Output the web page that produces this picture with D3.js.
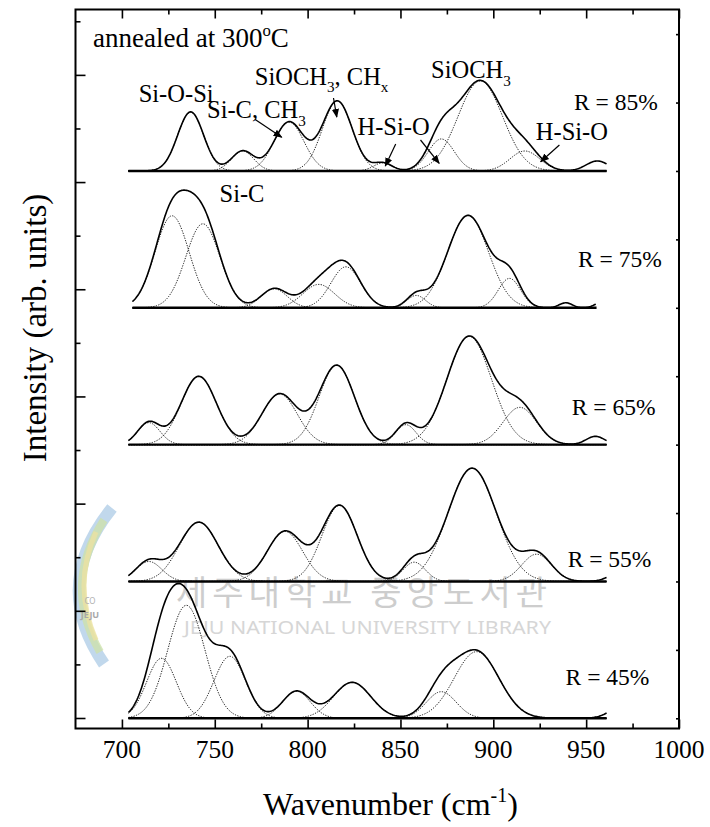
<!DOCTYPE html>
<html><head><meta charset="utf-8">
<script src="https://cdn.jsdelivr.net/npm/d3@7"></script>
<style>body{margin:0;background:#fff}</style></head>
<body>
<svg id="c" width="710" height="827"></svg>
<script>
// ---------- data ----------
const sampleLabels = ["R = 85%", "R = 75%", "R = 65%", "R = 55%", "R = 45%"];
const offsets = [8, 6, 4, 2, 0];                 // baseline of each stacked spectrum (right-axis units)
const startWn = [703.5, 705.7, 703.5, 703.5, 703.5];
const endWn   = [961, 955.6, 961, 961, 961];
// fitted components: [centre (cm-1), height, width sigma (cm-1)]
const peaks85 = [[737,0.863,7],[765,0.292,6],[790,0.716,8],[816,1.023,8],[840.5,0.117,5],[872,0.468,7],[893,1.316,12],[917,0.292,8]];
const peaks75 = [[727,1.345,9.2],[743.6,1.228,9.2],[782,0.278,7],[806,0.342,8.5],[820.6,0.599,8],[858.5,0.181,5],[886.4,1.351,11],[908.7,0.430,6]];
const peaks65 = [[714.5,0.322,6],[741.4,0.999,9.5],[784.9,0.741,9.5],[815.7,1.159,9.5],[852.9,0.292,5.5],[887,1.583,12],[914.3,0.545,9]];
const peaks55 = [[714.5,0.292,7],[741.4,0.867,10.5],[787.8,0.731,9.5],[817.2,1.111,9.5],[857.4,0.282,6],[888.6,1.656,13],[923.3,0.399,8]];
const peaks45 = [[721.3,0.877,8],[734.7,1.652,10],[758.1,0.906,8.5],[794,0.395,7.5],[824,0.526,10],[872,0.389,8],[891,0.974,12]];
// measured-spectrum features outside the fitted components (solid line only)
const tails85 = [[956,0.146,6]];
const tails75 = [[939,0.073,3.5],[958,0.073,3.5]];
const tails65 = [[955,0.121,5]];
const tails55 = [[968,0.117,6]];
const tails45 = [[970,0.175,7]];
const xMajorTicks = [700, 750, 800, 850, 900, 950, 1000];
const xMinorTicks = [725, 775, 825, 875, 925, 975];

const peakSets = [peaks85, peaks75, peaks65, peaks55, peaks45];
const tailSets = [tails85, tails75, tails65, tails55, tails45];

// ---------- layout ----------
const svg = d3.select("#c");
const L = 75.5, R = 679, T = 9.5, B = 728.5;
const x = d3.scaleLinear().domain([675, 1000]).range([L, R]);
const yR = d3.scaleLinear().domain([-0.149, 10.36]).range([B, T]);   // right axis / data
const yL = d3.scaleLinear().domain([-0.196, 13.22]).range([B, T]);   // left axis ticks
const serif = "Liberation Serif";

// ---------- watermark ----------
const wm = svg.append("g").attr("class", "watermark");
wm.append("path").attr("d", "M112,508 Q50,585 104,664").attr("fill", "none")
  .attr("stroke", "#a7c7e4").attr("stroke-width", 12).attr("opacity", 0.7);
wm.append("path").attr("d", "M104,520 Q62,585 100,652").attr("fill", "none")
  .attr("stroke", "#cde2a8").attr("stroke-width", 8).attr("opacity", 0.75);
wm.append("path").attr("d", "M96,532 Q72,585 96,640").attr("fill", "none")
  .attr("stroke", "#eee2a0").attr("stroke-width", 5).attr("opacity", 0.75);
wm.append("text").attr("x", 90).attr("y", 604).attr("text-anchor", "middle")
  .attr("font-family", "Noto Sans").attr("font-size", 8).attr("fill", "#b0b0b0").text("CO");
wm.append("text").attr("x", 90).attr("y", 618).attr("text-anchor", "middle")
  .attr("font-family", "Noto Sans").attr("font-weight", "bold").attr("font-size", 9).attr("fill", "#a8a8a8").text("JEJU");
wm.append("text").attr("x", 176).attr("y", 605)
  .attr("font-family", "Noto Sans CJK KR").attr("font-size", 34).attr("fill", "#cdcdcd")
  .attr("textLength", 371).text("제주대학교 중앙도서관");
wm.append("text").attr("x", 184).attr("y", 634)
  .attr("font-family", "Noto Sans").attr("font-size", 18).attr("fill", "#d6d6d6")
  .attr("textLength", 367).attr("lengthAdjust", "spacingAndGlyphs").text("JEJU NATIONAL UNIVERSITY LIBRARY");

// ---------- spectra ----------
const gauss = (w, p) => p[1] * Math.exp(-((w - p[0]) ** 2) / (2 * p[2] * p[2]));
const line = d3.line().x(d => x(d[0])).y(d => yR(d[1])).curve(d3.curveLinear);

peakSets.forEach((peaks, i) => {
  const wns = d3.range(startWn[i], endWn[i] + 0.001, 0.5);
  const g = svg.append("g");
  peaks.forEach(p => {
    g.append("path").datum(wns.map(w => [w, offsets[i] + gauss(w, p)]))
      .attr("d", line).attr("fill", "none").attr("stroke", "#222")
      .attr("stroke-width", 1).attr("stroke-dasharray", "1.3,1.3");
  });
  g.append("path").datum([[startWn[i], offsets[i]], [endWn[i], offsets[i]]])
    .attr("d", line).attr("stroke", "#000").attr("stroke-width", 2.4);
  const all = peaks.concat(tailSets[i]);
  g.append("path").datum(wns.map(w => [w, offsets[i] + d3.sum(all, p => gauss(w, p))]))
    .attr("d", line).attr("fill", "none").attr("stroke", "#000").attr("stroke-width", 1.6);
});

// ---------- frame & axes ----------
svg.append("rect").attr("x", L).attr("y", T).attr("width", R - L).attr("height", B - T)
  .attr("fill", "none").attr("stroke", "#000").attr("stroke-width", 2);

function ticks(axisFn, scale, vals, size, tr) {
  const a = svg.append("g").attr("transform", tr)
    .call(axisFn(scale).tickValues(vals).tickSize(size).tickFormat(""));
  a.select(".domain").remove();
  a.selectAll("text").remove();
  a.selectAll("line").attr("stroke", "#000").attr("stroke-width", 1.6);
  return a;
}
ticks(d3.axisBottom, x, xMajorTicks, -9, `translate(0,${B})`);
ticks(d3.axisBottom, x, xMinorTicks, -5, `translate(0,${B})`);
ticks(d3.axisTop, x, xMajorTicks, -9, `translate(0,${T})`);
ticks(d3.axisTop, x, xMinorTicks, -5, `translate(0,${T})`);
ticks(d3.axisLeft, yL, [0, 2, 4, 6, 8, 10, 12], -10, `translate(${L},0)`);
ticks(d3.axisLeft, yL, [1, 3, 5, 7, 9, 11, 13], -5, `translate(${L},0)`);
ticks(d3.axisRight, yR, [0,1,2,3,4,5,6,7,8,9,10], -3, `translate(${R},0)`);

svg.append("g").selectAll("text").data(xMajorTicks).join("text")
  .attr("x", d => x(d)).attr("y", 758).attr("text-anchor", "middle")
  .attr("font-family", serif).attr("font-size", 25.5).attr("fill", "#000").text(d => d);

// axis titles
const xt = svg.append("text").attr("x", 263).attr("y", 815)
  .attr("font-family", serif).attr("font-size", 32).attr("fill", "#000");
xt.append("tspan").text("Wavenumber (cm");
xt.append("tspan").attr("font-size", 20).attr("dy", -13).text("-1");
xt.append("tspan").attr("dy", 13).text(")");

svg.append("text").attr("transform", "translate(46,328) rotate(-90)")
  .attr("text-anchor", "middle").attr("font-family", serif).attr("font-size", 33)
  .attr("fill", "#000").text("Intensity (arb. units)");

// ---------- annotations ----------
function label(xp, yp, parts, size) {
  const t = svg.append("text").attr("x", xp).attr("y", yp)
    .attr("font-family", serif).attr("font-size", size).attr("fill", "#000");
  let pending = 0;
  parts.forEach(p => {
    if (typeof p === "string") {
      t.append("tspan").attr("dy", pending).text(p);
      pending = 0;
    } else {
      const dy = p.sub ? 0.3 * size : -0.4 * size;
      t.append("tspan").attr("font-size", size * 0.62).attr("dy", dy + pending).text(p.t);
      pending = -dy;
    }
  });
}
label(93, 46.7, ["annealed at 300", {t: "o"}, "C"], 27);
label(138.7, 101.7, ["Si-O-Si"], 24.5);
label(207, 118.3, ["Si-C, CH", {t: "3", sub: true}], 24.5);
label(254.8, 85, ["SiOCH", {t: "3", sub: true}, ", CH", {t: "x", sub: true}], 24.5);
label(431, 78.3, ["SiOCH", {t: "3", sub: true}], 24.5);
label(357.5, 135, ["H-Si-O"], 24.5);
label(535.8, 140, ["H-Si-O"], 24.5);
label(219.5, 201.7, ["Si-C"], 24.5);
const rLabelPos = [[574, 110], [578, 266.7], [571.8, 415], [567.7, 566.7], [565.6, 685]];
sampleLabels.forEach((s, i) => label(rLabelPos[i][0], rLabelPos[i][1], [s], 23.5));

svg.append("defs").append("marker").attr("id", "ah").attr("viewBox", "0 0 10 10")
  .attr("refX", 9).attr("refY", 5).attr("markerWidth", 9).attr("markerHeight", 9)
  .attr("markerUnits", "userSpaceOnUse").attr("orient", "auto")
  .append("path").attr("d", "M0,1 L10,5 L0,9 z").attr("fill", "#000");
const arrows = [[[254.8,119.3],[281.7,137.3]], [[333.5,98],[336.8,117]], [[395.7,144],[385.3,166]],
                [[420.5,140],[439.2,163.3]], [[559.4,145],[540.7,161.7]]];
arrows.forEach(a => svg.append("line")
  .attr("x1", a[0][0]).attr("y1", a[0][1]).attr("x2", a[1][0]).attr("y2", a[1][1])
  .attr("stroke", "#000").attr("stroke-width", 1.2).attr("marker-end", "url(#ah)"));
</script>
</body></html>
